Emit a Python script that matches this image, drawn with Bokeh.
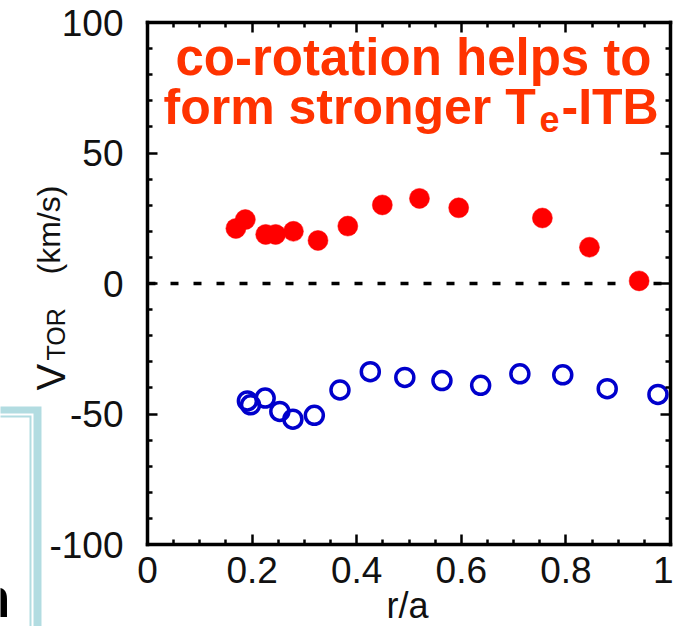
from bokeh.plotting import figure
from bokeh.models import (Range1d, FixedTicker, LinearAxis, Label, PolyAnnotation)
from bokeh.embed import file_html
from bokeh.resources import INLINE

# ---- data ----
red_x = [0.169, 0.187, 0.226, 0.245, 0.279, 0.326, 0.383, 0.449, 0.520, 0.595, 0.755, 0.845, 0.940]
red_y = [21.1, 24.5, 18.8, 18.8, 20.0, 16.5, 22.0, 30.1, 32.6, 29.0, 25.1, 13.9, 1.0]
blue_x = [0.191, 0.197, 0.225, 0.253, 0.278, 0.319, 0.368, 0.426, 0.492, 0.563, 0.637, 0.712, 0.794, 0.879, 0.976]
blue_y = [-45.0, -46.5, -43.9, -49.0, -52.0, -50.5, -40.8, -33.8, -36.0, -37.2, -39.0, -34.6, -35.0, -40.3, -42.5]

x_ticks = [0, 0.2, 0.4, 0.6, 0.8, 1]
x_tick_labels = ["0", "0.2", "0.4", "0.6", "0.8", "1"]
x_minor = [0.05, 0.1, 0.15, 0.25, 0.3, 0.35, 0.45, 0.5, 0.55, 0.65, 0.7, 0.75, 0.85, 0.9, 0.95]
y_ticks = [-100, -50, 0, 50, 100]
y_tick_labels = ["-100", "-50", "0", "50", "100"]
y_minor = [v for v in range(-90, 100, 10) if v % 50 != 0]

x_label = "r/a"
y_label_parts = ["V", "TOR", "(km/s)"]
note_line1 = "co-rotation helps to"
note_line2 = ["form stronger T", "e", "-ITB"]

# ---- layout: the figure frame fills the canvas; the axes box is placed with fixed axes ----
W, H = 673, 626
L, T = 147, 22            # pixel position of the axes box (left, top)
BW, BH = 523, 522         # pixel size of the axes box
X0, X1, Y0, Y1 = 0.0, 1.0, -100.0, 100.0

def dx(px):
    return X0 + (px - L) / BW * (X1 - X0)

def dy(py):
    return Y1 - (py - T) / BH * (Y1 - Y0)

FONT = "Liberation Sans"
TXT_RED = "#ff3300"
INK = "#111111"

p = figure(width=W, height=H, output_backend="svg", toolbar_location=None,
           x_range=Range1d(dx(0), dx(W)), y_range=Range1d(dy(H), dy(0)),
           min_border=0, x_axis_location=None, y_axis_location=None)
p.background_fill_color = "white"
p.border_fill_color = "white"
p.grid.visible = False
p.outline_line_color = None

def make_axis(loc, bounds, ticks, minor, labels, show_labels, standoff):
    ax = LinearAxis(fixed_location=loc, bounds=bounds)
    ax.ticker = FixedTicker(ticks=ticks, minor_ticks=minor)
    ax.axis_line_color = "black"
    ax.axis_line_width = 3.5
    ax.axis_line_cap = "square"
    ax.major_tick_in = 10
    ax.major_tick_out = 0
    ax.minor_tick_in = 5
    ax.minor_tick_out = 0
    ax.major_tick_line_width = 2.5
    ax.minor_tick_line_width = 2.5
    ax.major_tick_line_color = "black"
    ax.minor_tick_line_color = "black"
    ax.major_label_text_font = FONT
    ax.major_label_text_font_size = "37px"
    ax.major_label_text_color = INK
    ax.major_label_standoff = standoff
    if show_labels:
        ax.major_label_overrides = {t: s for t, s in zip(ticks, labels)}
    else:
        ax.major_label_overrides = {t: "" for t in ticks}
    return ax

p.add_layout(make_axis(Y0, (X0, X1), x_ticks, x_minor, x_tick_labels, True, 12), "below")
p.add_layout(make_axis(X0, (Y0, Y1), y_ticks, y_minor, y_tick_labels, True, 24), "left")
p.add_layout(make_axis(Y1, (X0, X1), x_ticks, x_minor, x_tick_labels, False, 0), "above")
p.add_layout(make_axis(X1, (Y0, Y1), y_ticks, y_minor, y_tick_labels, False, 0), "right")

# zero reference line across the axis range
p.line([X0, X1], [0, 0], line_color="black", line_width=3.5, line_dash="8 15")

# data
p.scatter(red_x, red_y, marker="circle", size=20, fill_color="#ff0000",
          line_color="#ff0000", line_width=0.5)
p.scatter(blue_x, blue_y, marker="circle", size=18, fill_color=None,
          line_color="#0000cc", line_width=3.5)

BASE_FIX = 0.28   # measured offset of the drawn baseline, in em

def label(px, py, text, size, color, bold=False, align="left", rotated=False):
    s = float(size.replace("px", ""))
    if rotated:
        px = px - BASE_FIX * s
        angle = 1.5707963267948966
    else:
        py = py - BASE_FIX * s
        angle = 0.0
    p.add_layout(Label(x=dx(px), y=dy(py), text=text, text_align=align, angle=angle,
                       text_baseline="alphabetic", text_font=FONT,
                       text_font_style="bold" if bold else "normal",
                       text_font_size=size, text_color=color))

# annotation text
label(413, 71, note_line1, "51px", TXT_RED, True, "center")
label(163, 120, note_line2[0], "50px", TXT_RED, True)
label(539, 129, note_line2[1], "36px", TXT_RED, True)
label(561, 120, note_line2[2], "50px", TXT_RED, True)

# axis titles (pieces give the small-caps subscript)
label(62, 390, y_label_parts[0], "40px", INK, rotated=True)
label(62, 360, y_label_parts[1], "25px", INK, rotated=True)
label(57, 274, y_label_parts[2], "32px", INK, rotated=True)
label(407, 615, x_label, "36px", INK, align="center")

# slide decoration at lower left
band = "#b2dce1"
p.add_layout(PolyAnnotation(
    xs=[dx(-5), dx(41), dx(41), dx(33), dx(33), dx(-5)],
    ys=[dy(406), dy(406), dy(630), dy(630), dy(413), dy(413)],
    fill_color=band, fill_alpha=1.0, line_color=None))
p.add_layout(PolyAnnotation(
    xs=[dx(-5), dx(31), dx(31), dx(29), dx(29), dx(-5)],
    ys=[dy(415), dy(415), dy(630), dy(630), dy(417), dy(417)],
    fill_color=band, fill_alpha=1.0, line_color=None))
label(10, 613, "n", "56px", "black", True, "right")

open("out.html", "w").write(file_html(p, INLINE))
